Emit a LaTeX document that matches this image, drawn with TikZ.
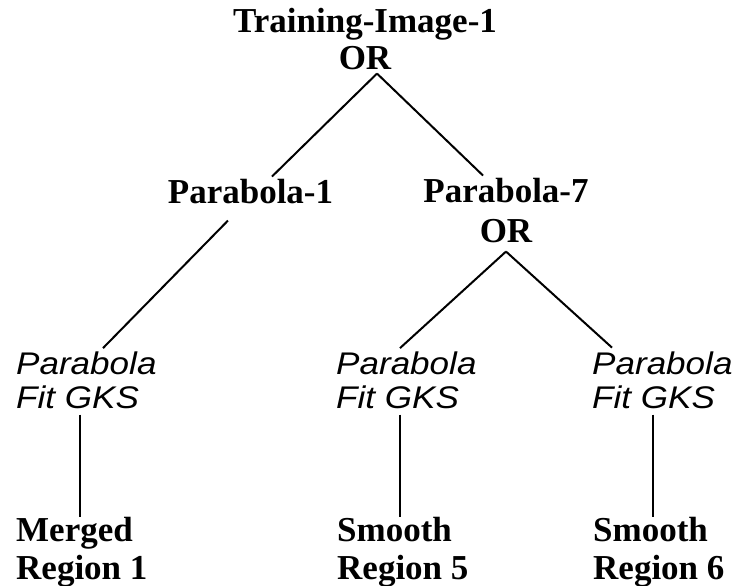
\documentclass[tikz,border=0pt]{standalone}
\usepackage{fontspec}
\setmainfont{Liberation Serif}
\newfontfamily\labelsans[FakeStretch=1.12]{Liberation Sans}
\begin{document}
\begin{tikzpicture}[x=1pt,y=-1pt,
  goal/.style={font=\bfseries\fontsize{35}{37}\selectfont, inner sep=0pt, align=center, anchor=base},
  leaf/.style={font=\bfseries\fontsize{35}{38}\selectfont, inner sep=0pt, align=left, anchor=base west},
  method/.style={font=\labelsans\itshape\fontsize{31.3}{34}\selectfont, inner sep=0pt, align=left, anchor=base west},
  edge/.style={line width=2pt}]
\useasboundingbox (0,0) rectangle (736,586);

% goal nodes (anchored at the baseline of their last line)
\node[goal] (top) at (365,70) {Training-Image-1\\OR};
\node[goal] (p1) at (250.5,203) {Parabola-1};
\node[goal] (p7) at (506,242) {Parabola-7\\[3pt]OR};

% method nodes
\node[method] (f1) at (16,408) {Parabola\\Fit GKS};
\node[method] (f2) at (336,408) {Parabola\\Fit GKS};
\node[method] (f3) at (592,408) {Parabola\\Fit GKS};

% region leaves
\node[leaf] (r1) at (16,579) {Merged\\Region 1};
\node[leaf] (r5) at (337,579.5) {Smooth\\Region 5};
\node[leaf] (r6) at (593,579.5) {Smooth\\Region 6};

% OR branches
\draw[edge] ([xshift=12pt,yshift=-3pt]top.south) -- ([xshift=21.5pt,yshift=2pt]p1.north);
\draw[edge] ([xshift=12pt,yshift=-3pt]top.south) -- ([xshift=-23pt,yshift=2pt]p7.north);
\draw[edge] ([yshift=-9pt]p7.south) -- ([xshift=64pt,yshift=3pt]f2.north west);
\draw[edge] ([yshift=-9pt]p7.south) -- ([xshift=20pt,yshift=3.5pt]f3.north west);

% single child
\draw[edge] ([xshift=-22.5pt,yshift=-17pt]p1.south) -- ([xshift=87pt,yshift=3pt]f1.north west);

% methods down to regions
\coordinate (v1) at ([xshift=64pt,yshift=-6pt]f1.south west);
\coordinate (v2) at ([xshift=64pt,yshift=-6pt]f2.south west);
\coordinate (v3) at ([xshift=61pt,yshift=-6pt]f3.south west);
\draw[edge] (v1) -- (v1 |- r1.north);
\draw[edge] (v2) -- (v2 |- r5.north);
\draw[edge] (v3) -- (v3 |- r6.north);
\end{tikzpicture}
\end{document}
